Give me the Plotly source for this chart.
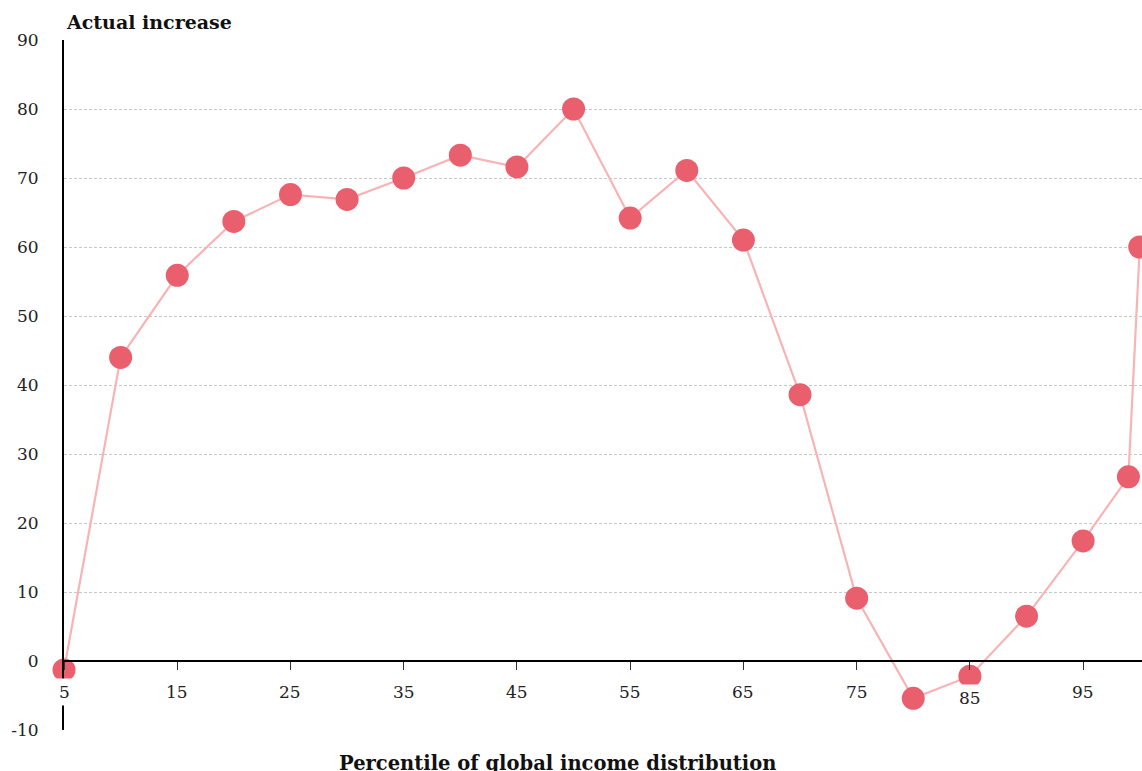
import plotly.graph_objects as go

percentiles = [5, 10, 15, 20, 25, 30, 35, 40, 45, 50, 55, 60, 65, 70, 75, 80, 85, 90, 95, 99, 100]
increase = [-1.3, 44.0, 55.9, 63.7, 67.6, 66.9, 70.0, 73.3, 71.6, 80.0, 64.2, 71.1, 61.0, 38.6, 9.1, -5.4, -2.2, 6.5, 17.4, 26.7, 60.0]
x_ticks = [5, 15, 25, 35, 45, 55, 65, 75, 85, 95]
y_ticks = [-10, 0, 10, 20, 30, 40, 50, 60, 70, 80, 90]
y_tick_labels = ["-10", "0", "10", "20", "30", "40", "50", "60", "70", "80", "90"]

FONT = "DejaVu Serif"
TXT = "#222222"

W, H = 1142, 771

fig = go.Figure()
fig.add_trace(go.Scatter(
    x=percentiles, y=increase, mode="lines+markers",
    line=dict(color="#F8B4B4", width=2.2),
    marker=dict(color="#EA5F6E", size=23, line=dict(width=0)),
    cliponaxis=False, hoverinfo="x+y", showlegend=False,
))

label_shift = {85: -6}
for t in x_ticks:
    fig.add_annotation(
        x=t, y=0, xref="x", yref="y", text=str(t), showarrow=False,
        yanchor="middle", yshift=-31 + label_shift.get(t, 0),
        font=dict(family=FONT, size=17, color=TXT),
        bgcolor="white", borderpad=3,
    )

fig.add_annotation(
    x=0, y=1, xref="paper", yref="paper", text="<b>Actual increase</b>",
    showarrow=False, xanchor="left", yanchor="bottom", yshift=5,
    font=dict(family=FONT, size=19, color="#111111"),
)
fig.add_annotation(
    x=(557 - 64) / 1078, y=0, xref="paper", yref="paper",
    text="<b>Percentile of global income distribution</b>",
    showarrow=False, xanchor="center", yanchor="middle", yshift=-33,
    font=dict(family=FONT, size=19.5, color="#111111"),
)

fig.update_layout(
    width=W, height=H,
    margin=dict(l=64, r=0, t=40, b=41),
    plot_bgcolor="white", paper_bgcolor="white",
    font=dict(family=FONT, size=17, color=TXT),
    xaxis=dict(
        range=[5, 100.2], showgrid=False, zeroline=False,
        anchor="free", position=0.1,
        showline=True, linecolor="black", linewidth=2,
        tickvals=x_ticks, ticks="outside", ticklen=8, tickwidth=1, tickcolor="#333",
        showticklabels=False,
    ),
    yaxis=dict(
        range=[-10, 90], tickvals=y_ticks, ticktext=y_tick_labels, showgrid=True,
        gridcolor="#c8c8c8", griddash="3px,2px", gridwidth=1,
        zeroline=False, showline=True, linecolor="black", linewidth=2,
        ticks="", ticklabelstandoff=20,
        tickfont=dict(family=FONT, size=17, color=TXT),
    ),
)

# remove the default page margin / scrollbars so the figure fills the window exactly
fig.write_html(
    "out.html",
    config={"displayModeBar": False},
    post_script="document.body.style.margin='0';document.body.style.overflow='hidden';",
)
